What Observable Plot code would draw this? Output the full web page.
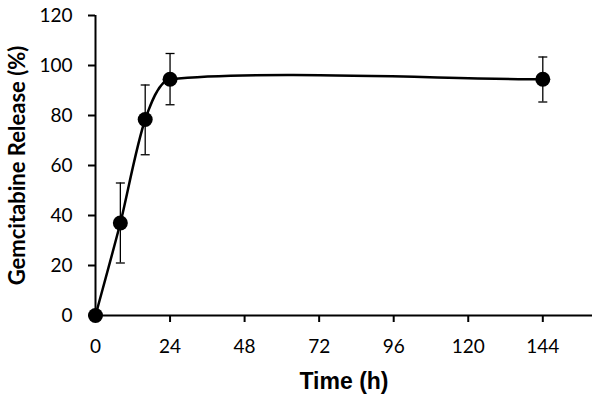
<!DOCTYPE html>
<html>
<head>
<meta charset="utf-8">
<script src="https://cdn.jsdelivr.net/npm/d3@7"></script>
<script src="https://cdn.jsdelivr.net/npm/@observablehq/plot@0.6"></script>
<style>
  html, body { margin: 0; padding: 0; background: #fff; }
  #chart { width: 600px; height: 401px; }
</style>
</head>
<body>
<div id="chart"></div>
<script>
const times = [0, 8, 16, 24, 144];
const release = [0, 37, 78.4, 94.5, 94.5];
const errLow = [0, 21, 64.3, 84.3, 85.4];
const errHigh = [0, 53, 92.2, 104.8, 103.4];
const xTicks = [0, 24, 48, 72, 96, 120, 144];
const yTicks = [0, 20, 40, 60, 80, 100, 120];
const xTitle = "Time (h)";
const yTitle = "Gemcitabine Release (%)";

const data = times.map((t, i) => ({t, y: release[i], lo: errLow[i], hi: errHigh[i]}));

// Error-bar cap symbol (short horizontal line)
const cap = {
  draw(ctx, size) {
    const w = 4.5;
    ctx.moveTo(-w, 0);
    ctx.lineTo(w, 0);
  }
};

// Smooth curve similar to spreadsheet "smoothed line": tangent direction from neighbours,
// control-point distance scaled by the segment's own length.
function SmoothCurve(context) { this._context = context; }
SmoothCurve.prototype = {
  areaStart() { this._line = 0; },
  areaEnd() { this._line = NaN; },
  lineStart() { this._pts = []; },
  point(x, y) { this._pts.push([+x, +y]); },
  lineEnd() {
    const p = this._pts, n = p.length, ctx = this._context, k = 0.25;
    if (!n) return;
    ctx.moveTo(p[0][0], p[0][1]);
    if (n === 1) return;
    const dirs = p.map((_, i) => {
      const a = p[Math.max(0, i - 1)], b = p[Math.min(n - 1, i + 1)];
      const dx = b[0] - a[0], dy = b[1] - a[1], l = Math.hypot(dx, dy) || 1;
      return [dx / l, dy / l];
    });
    for (let i = 0; i < n - 1; i++) {
      const a = p[i], b = p[i + 1];
      const L = Math.hypot(b[0] - a[0], b[1] - a[1]);
      ctx.bezierCurveTo(
        a[0] + dirs[i][0] * L * k, a[1] + dirs[i][1] * L * k,
        b[0] - dirs[i + 1][0] * L * k, b[1] - dirs[i + 1][1] * L * k,
        b[0], b[1]
      );
    }
  }
};
const curveSmooth = ctx => new SmoothCurve(ctx);

const chart = Plot.plot({
  width: 600,
  height: 401,
  marginLeft: 95,
  marginTop: 15,
  marginRight: 8,
  marginBottom: 86,
  style: {fontFamily: "Lato, sans-serif", fontSize: "19px", color: "#000", background: "#fff"},
  x: {domain: [0, 160]},
  y: {domain: [0, 120]},
  marks: [
    Plot.axisY({ticks: yTicks, tickSize: 7, tickPadding: 16, strokeWidth: 2, fontSize: 19, label: null}),
    Plot.axisX({ticks: xTicks, tickSize: 7, tickPadding: 17, strokeWidth: 2, fontSize: 19, label: null}),
    Plot.text([yTitle], {frameAnchor: "left", rotate: -90, dx: -78, textAnchor: "middle", lineAnchor: "middle", fontSize: 22, fontWeight: "bold", fontFamily: "Lato, sans-serif"}),
    Plot.text([xTitle], {frameAnchor: "bottom", dy: 66, textAnchor: "middle", lineAnchor: "middle", fontSize: 23, fontWeight: "bold", fontFamily: "Liberation Sans, Arial, sans-serif"}),
    Plot.ruleX([0], {strokeWidth: 2}),
    Plot.ruleY([0], {strokeWidth: 2}),
    Plot.line(data, {x: "t", y: "y", curve: curveSmooth, strokeWidth: 2.5, stroke: "#000"}),
    Plot.ruleX(data, {x: "t", y1: "lo", y2: "hi", strokeWidth: 1.3, stroke: "#000"}),
    Plot.dot(data, {x: "t", y: "lo", symbol: cap, fill: "none", stroke: "#000", strokeWidth: 1.3}),
    Plot.dot(data, {x: "t", y: "hi", symbol: cap, fill: "none", stroke: "#000", strokeWidth: 1.3}),
    Plot.dot(data, {x: "t", y: "y", r: 7.5, fill: "#000", stroke: "none"})
  ]
});

document.getElementById("chart").appendChild(chart);
</script>
</body>
</html>
